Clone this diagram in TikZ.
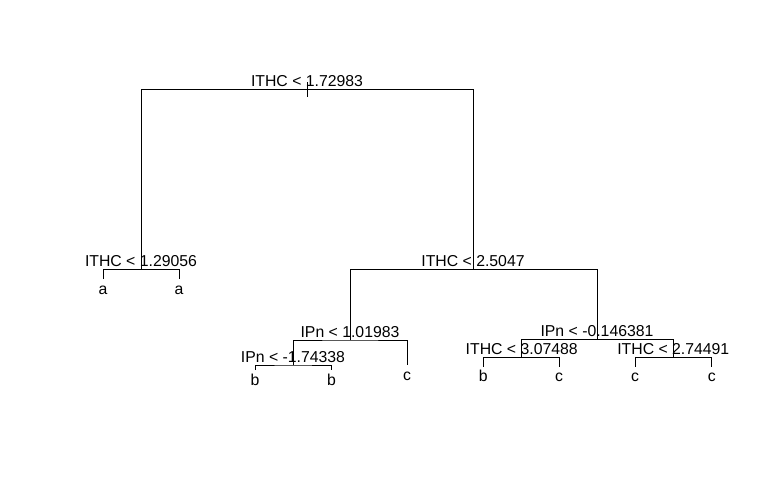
\documentclass[tikz,border=0pt]{standalone}
\usepackage{fontspec}
\setmainfont{Liberation Sans}
\begin{document}
\begin{tikzpicture}[x=1pt,y=-1pt,
  edge/.style={draw=black,line width=1pt},
  splitlab/.style={anchor=base,inner sep=0pt,font=\fontsize{15.8}{18}\selectfont},
  leaflab/.style={anchor=base,inner sep=0pt,font=\fontsize{15.8}{18}\selectfont}]
\useasboundingbox[fill=white] (0,0) rectangle (776,480);
% internal nodes
\coordinate (n1) at (307,89.5);
\coordinate (n2) at (141,269.3);
\coordinate (n3) at (473,269.3);
\coordinate (n4) at (350,340);
\coordinate (n5) at (293,365);
\coordinate (n6) at (597,339.5);
\coordinate (n7) at (521.7,357.7);
\coordinate (n8) at (673.3,357.7);
% leaves (stub ends)
\coordinate (l1) at (103,279);
\coordinate (l2) at (179,279);
\coordinate (l3) at (255,370);
\coordinate (l4) at (331.5,370);
\coordinate (l5) at (407,365);
\coordinate (l6) at (483.3,366.7);
\coordinate (l7) at (559,366.7);
\coordinate (l8) at (635,366.7);
\coordinate (l9) at (711.7,366.7);
\coordinate (t1) at (307,82);
\coordinate (t2) at (307,97);
% connectors
\draw[edge] (t1) -- (t2);
\draw[edge] (n2) |- (n1) -| (n3);
\draw[edge] (l1) |- (n2) -| (l2);
\draw[edge] (n4) |- (n3) -| (n6);
\draw[edge] (n5) |- (n4) -| (l5);
\draw[edge] (l3) |- (n5) -| (l4);
\draw[edge] (n7) |- (n6) -| (n8);
\draw[edge] (l6) |- (n7) -| (l7);
\draw[edge] (l8) |- (n8) -| (l9);
% split labels
\node[splitlab] (s1) at ([yshift=3.5pt]n1) {ITHC < 1.72983};
\node[splitlab] (s2) at ([yshift=2.5pt]n2) {ITHC < 1.29056};
\node[splitlab] (s3) at ([yshift=2.5pt]n3) {ITHC < 2.5047};
\node[splitlab] (s4) at ([yshift=3pt]n4) {IPn < 1.01983};
\node[splitlab] (s5) at ([yshift=2.5pt]n5) {IPn < -1.74338};
\node[splitlab] (s6) at ([yshift=3pt]n6) {IPn < -0.146381};
\node[splitlab] (s7) at ([yshift=3pt]n7) {ITHC < 3.07488};
\node[splitlab] (s8) at ([yshift=3pt]n8) {ITHC < 2.74491};
% leaf labels
\node[leaflab] (a1) at ([yshift=-15pt]l1) {a};
\node[leaflab] (a2) at ([yshift=-15pt]l2) {a};
\node[leaflab] (a3) at ([yshift=-15pt]l3) {b};
\node[leaflab] (a4) at ([yshift=-15pt]l4) {b};
\node[leaflab] (a5) at ([yshift=-15pt]l5) {c};
\node[leaflab] (a6) at ([yshift=-15pt]l6) {b};
\node[leaflab] (a7) at ([yshift=-15pt]l7) {c};
\node[leaflab] (a8) at ([yshift=-15pt]l8) {c};
\node[leaflab] (a9) at ([yshift=-15pt]l9) {c};
\end{tikzpicture}
\end{document}
